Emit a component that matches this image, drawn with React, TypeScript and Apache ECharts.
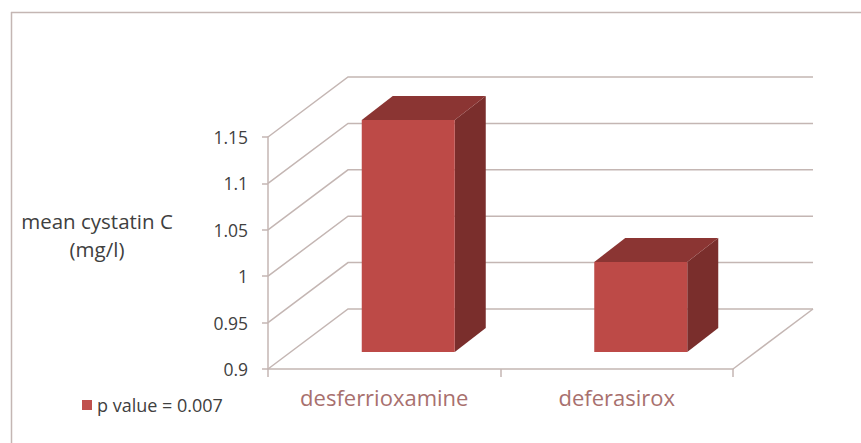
import React, { useEffect, useRef } from "react";
import * as echarts from "echarts";

const categories = ["desferrioxamine", "deferasirox"];
const meanCystatin = [1.15, 0.997];
const axisTicks = [0.9, 0.95, 1, 1.05, 1.1, 1.15];
const seriesName = "p value = 0.007";
const yTitle = "mean cystatin C\n(mg/l)";

const DX = 80;
const DY = 60;
const BAR_FRONT_DX = 24;
const BAR_FRONT_DY = 17;
const BAR_DX = 31;
const BAR_DY = 24;
const LINE = "#c4b6b3";
const FONT = "'Open Sans', sans-serif";

export default function App() {
  const ref = useRef<HTMLDivElement>(null);
  useEffect(() => {
    const chart = echarts.init(ref.current!, undefined, { renderer: "svg" });
    chart.setOption({
      animation: false,
      backgroundColor: "#ffffff",
      grid: { left: 268, top: 137, width: 465, height: 232 },
      legend: {
        left: 77,
        top: 391,
        data: [{ name: seriesName, icon: "rect" }],
        itemWidth: 10,
        itemHeight: 10,
        itemGap: 8,
        textStyle: { fontFamily: FONT, fontSize: 18, color: "#404040" },
      },
      xAxis: {
        type: "category",
        data: categories,
        boundaryGap: true,
        axisLine: { lineStyle: { color: LINE, width: 1.5 } },
        axisTick: { show: true, length: 8, lineStyle: { color: LINE, width: 1.5 } },
        axisLabel: { margin: 17, fontFamily: FONT, fontSize: 22, color: "#a8706e" },
      },
      yAxis: {
        type: "value",
        min: 0.9,
        max: 1.15,
        interval: 0.05,
        axisLine: { show: true, lineStyle: { color: LINE, width: 1.5 } },
        axisTick: { show: true, length: 6, lineStyle: { color: LINE, width: 1.5 } },
        axisLabel: { margin: 20, fontFamily: FONT, fontSize: 17.5, color: "#404040", formatter: (v: number) => String(+v.toFixed(2)) },
        splitLine: { show: false },
      },
      series: [
        {
          type: "custom",
          name: "walls",
          silent: true,
          coordinateSystem: "cartesian2d",
          data: axisTicks.map((t) => [0, t]),
          encode: { x: 0, y: 1 },
          clip: false,
          z: 1,
          renderItem: (params: any, api: any) => {
            const t = api.value(1);
            const y = api.coord([0, t])[1];
            const cs = params.coordSys;
            const left = cs.x;
            const right = cs.x + cs.width;
            const style = { stroke: LINE, lineWidth: 1.5, fill: "none" };
            const children: any[] = [
              {
                type: "polyline",
                shape: { points: [[left, y], [left + DX, y - DY], [right + DX, y - DY]] },
                style,
              },
            ];
            if (t === axisTicks[0]) {
              children.push({ type: "line", shape: { x1: right, y1: y, x2: right + DX, y2: y - DY }, style });
            }
            return { type: "group", children };
          },
        },
        {
          type: "custom",
          name: seriesName,
          coordinateSystem: "cartesian2d",
          itemStyle: { color: "#c0504d" },
          data: categories.map((_, i) => [i, meanCystatin[i]]),
          encode: { x: 0, y: 1 },
          clip: false,
          z: 2,
          renderItem: (params: any, api: any) => {
            const i = api.value(0);
            const top = api.coord([i, api.value(1)]);
            const base = api.coord([i, 0.9]);
            const w = api.size([1, 0])[0] * 0.4;
            const x0 = top[0] - w / 2 + BAR_FRONT_DX;
            const x1 = x0 + w;
            const yt = top[1] - BAR_FRONT_DY;
            const yb = base[1] - BAR_FRONT_DY;
            return {
              type: "group",
              children: [
                {
                  type: "polygon",
                  shape: { points: [[x1, yt], [x1 + BAR_DX, yt - BAR_DY], [x1 + BAR_DX, yb - BAR_DY], [x1, yb]] },
                  style: { fill: "#7a2e2c" },
                },
                {
                  type: "polygon",
                  shape: { points: [[x0, yt], [x0 + BAR_DX, yt - BAR_DY], [x1 + BAR_DX, yt - BAR_DY], [x1, yt]] },
                  style: { fill: "#8b3533" },
                },
                {
                  type: "rect",
                  shape: { x: x0, y: yt, width: w, height: yb - yt },
                  style: { fill: "#bd4a47" },
                },
              ],
            };
          },
        },
      ],
      graphic: [
        {
          type: "line",
          silent: true,
          shape: { x1: 11, y1: 12.5, x2: 861, y2: 12.5 },
          style: { stroke: LINE, lineWidth: 1.5 },
        },
        {
          type: "line",
          silent: true,
          shape: { x1: 11.5, y1: 12, x2: 11.5, y2: 443 },
          style: { stroke: LINE, lineWidth: 1.5 },
        },
        {
          type: "text",
          x: 97,
          y: 207,
          style: {
            text: yTitle,
            fontFamily: FONT,
            fontSize: 20.5,
            lineHeight: 28,
            fill: "#404040",
            align: "center",
          },
        },
      ],
    });
    return () => chart.dispose();
  }, []);
  return (
    <div
      ref={ref}
      style={{ position: "absolute", left: 0, top: 0, width: 861, height: 443 }}
    />
  );
}
